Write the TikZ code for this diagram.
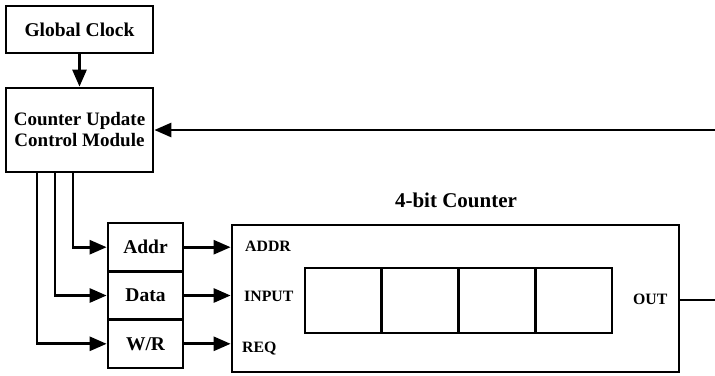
\documentclass[tikz,border=0pt]{standalone}
\usepackage{fontspec}
\setmainfont{Liberation Serif}
\usetikzlibrary{arrows.meta}
\begin{document}
\begin{tikzpicture}[x=1pt,y=-1pt,
  box/.style={draw,line width=2.7pt,rectangle,inner sep=0pt,font=\bfseries\fontsize{19.5}{22}\selectfont},
  cell/.style={draw,line width=2.7pt,rectangle,inner sep=0pt,minimum width=76.75pt,minimum height=65pt},
  lbl/.style={inner sep=0pt,anchor=west,font=\bfseries\fontsize{15.8}{18}\selectfont},
  arr/.style={line width=2.7pt,-{Triangle[length=17pt,width=14pt]}},
  wire/.style={line width=2.7pt}]
\useasboundingbox (0,0) rectangle (715,375);
\node[box,minimum width=147pt,minimum height=47pt] (clock) at (79.5,29.5) {Global Clock};
\node[box,minimum width=147pt,minimum height=84pt,align=center,font=\bfseries\fontsize{19}{21}\selectfont] (cucm) at (79.5,130) {Counter Update\\Control Module};
\node[box,minimum width=75pt,minimum height=48.3pt] (addr) at (145.5,247.2) {Addr};
\node[box,minimum width=75pt,minimum height=48.3pt] (data) at (145.5,295.5) {Data};
\node[box,minimum width=75pt,minimum height=48.3pt] (wr) at (145.5,343.8) {W/R};
\node[draw,line width=2.7pt,rectangle,inner sep=0pt,minimum width=447pt,minimum height=147pt] (counter) at (455.5,298.5) {};
\node[inner sep=0pt,font=\bfseries\fontsize{21}{24}\selectfont] (title) at (456,200) {4-bit Counter};
\node[cell] (c1) at (343.4,300.5) {};
\node[cell] (c2) at (420.1,300.5) {};
\node[cell] (c3) at (496.9,300.5) {};
\node[cell] (c4) at (573.6,300.5) {};
\node[lbl] (lADDR) at (245,246) {ADDR};
\node[lbl] (lINPUT) at (244,296) {INPUT};
\node[lbl] (lREQ) at (242,349) {REQ};
\node[lbl] (lOUT) at (633,299) {OUT};
\coordinate (fbR) at (716,130);
\coordinate (outR) at (716,300);
\draw[arr] (clock) -- (cucm);
\draw[arr] (fbR) -- (cucm.east);
\draw[wire] (counter.east |- outR) -- (outR);
\draw[arr] ([xshift=-6.5pt]cucm.south) |- (addr.west);
\draw[arr] ([xshift=-24.5pt]cucm.south) |- (data.west);
\draw[arr] ([xshift=-42.5pt]cucm.south) |- (wr.west);
\draw[arr] (addr.east) -- (counter.west |- addr.east);
\draw[arr] (data.east) -- (counter.west |- data.east);
\draw[arr] (wr.east) -- (counter.west |- wr.east);
\end{tikzpicture}
\end{document}
